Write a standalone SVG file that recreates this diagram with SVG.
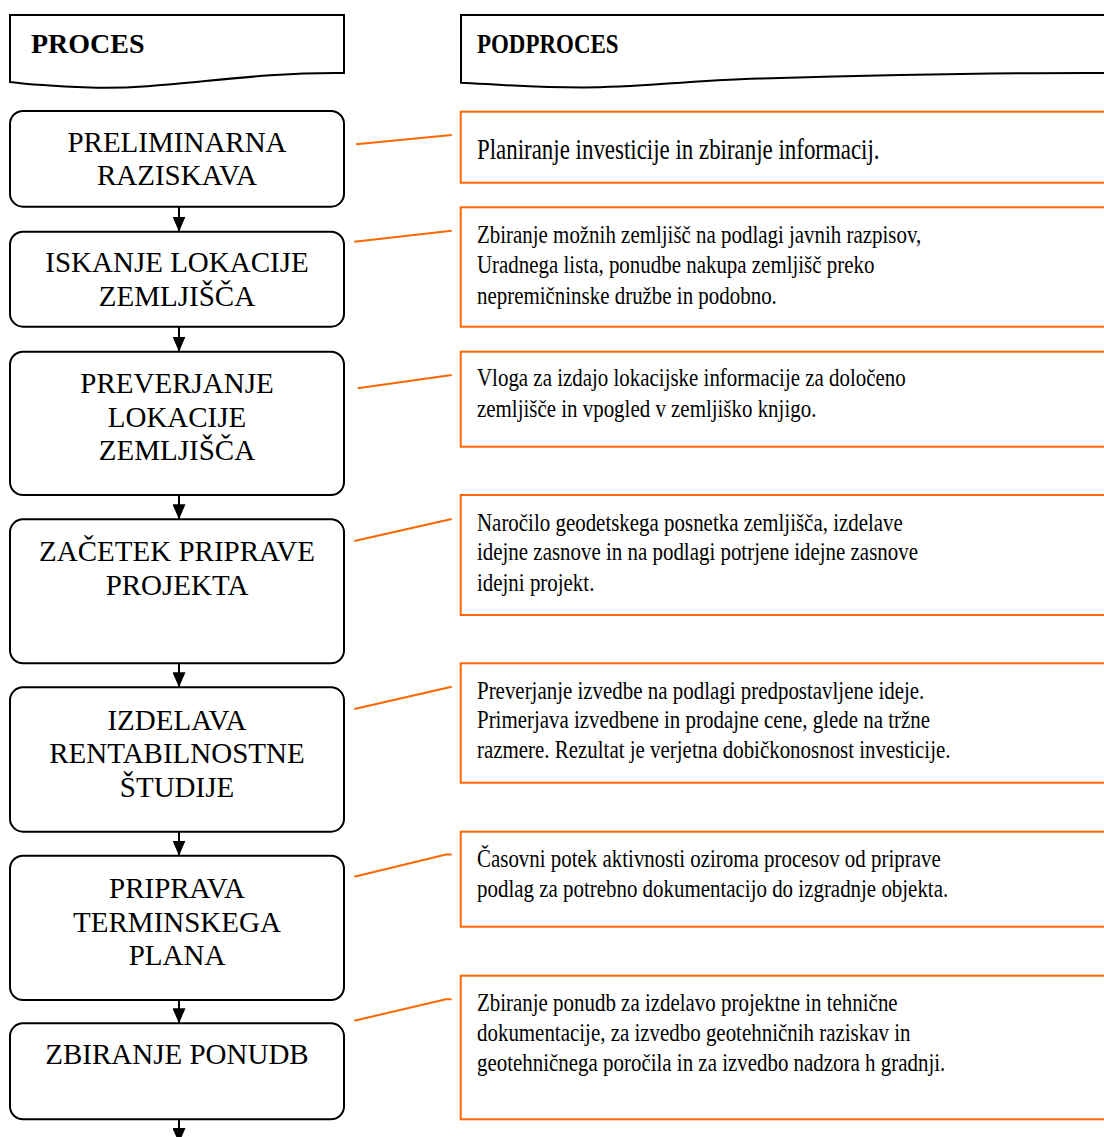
<svg xmlns="http://www.w3.org/2000/svg" width="1104" height="1137" viewBox="0 0 1104 1137">
<defs>
<style>
.doc{fill:#fff;stroke:#000;stroke-width:2}
.node{fill:#fff;stroke:#000;stroke-width:2}
.sub{fill:#fff;stroke:#ff6600;stroke-width:2}
.hd{font-family:"Liberation Serif","Times New Roman",serif;font-weight:bold;font-size:28px;fill:#000}
.nt{font-family:"Liberation Serif","Times New Roman",serif;font-size:29px;fill:#000;text-anchor:middle}
.st{font-family:"Liberation Serif","Times New Roman",serif;font-size:26px;fill:#000}
.st1{font-family:"Liberation Serif","Times New Roman",serif;font-size:29px;fill:#000}
.flow{stroke:#000;stroke-width:2;fill:none;marker-end:url(#ah)}
.link{stroke:#ff6600;stroke-width:2;fill:none}
</style>
<marker id="ah" viewBox="0 0 15 13" refX="15" refY="6.5" markerWidth="15" markerHeight="13" markerUnits="userSpaceOnUse" orient="auto">
<path d="M0,0 L15,6.5 L0,13 Z" fill="#000"/>
</marker>
</defs>
<rect width="1104" height="1137" fill="#fff"/>

<g id="header-proces">
<path class="doc" d="M10,15 H344 V73 C 240,72 170,90 90,87.5 C 50,86 25,84 10,82 Z"/>
<text class="hd" x="31" y="53">PROCES</text>
</g>
<g id="header-podproces">
<path class="doc" d="M461,15 H1112 V73 C 1000,72.5 850,76 760,78.5 C 680,81 640,87.5 583,87.5 C 530,87.5 490,84 461,82.7 Z"/>
<text class="hd" transform="translate(477,53) scale(0.82,1)" x="0" y="0">PODPROCES</text>
</g>

<g id="connectors">
<line class="flow" x1="179" y1="206.7" x2="179" y2="231.7"/>
<line class="flow" x1="179" y1="326.7" x2="179" y2="351.7"/>
<line class="flow" x1="179" y1="495" x2="179" y2="519.3"/>
<line class="flow" x1="179" y1="663.3" x2="179" y2="687.3"/>
<line class="flow" x1="179" y1="831.7" x2="179" y2="855.7"/>
<line class="flow" x1="179" y1="1000" x2="179" y2="1023.3"/>
<line class="flow" x1="179" y1="1119.3" x2="179" y2="1143"/>
<polyline class="link" points="356,144.3 451.7,135"/>
<polyline class="link" points="354.3,241.7 451.7,230.8"/>
<polyline class="link" points="357.7,388.3 451.7,375"/>
<polyline class="link" points="354.3,541 451.7,519"/>
<polyline class="link" points="354.3,709 451.7,686.7"/>
<polyline class="link" points="354.3,876.7 446,854.5 451.7,854.5"/>
<polyline class="link" points="354.3,1020.7 446,999.3 451.7,999.3"/>
</g>

<g id="n1">
<rect class="node" x="10" y="111" width="334" height="95.7" rx="13"/>
<text class="nt" x="177" y="152.3">PRELIMINARNA</text>
<text class="nt" x="177" y="185">RAZISKAVA</text>
</g>
<g id="n2">
<rect class="node" x="10" y="231.7" width="334" height="95" rx="13"/>
<text class="nt" x="177" y="272.3">ISKANJE LOKACIJE</text>
<text class="nt" x="177" y="305.7">ZEMLJIŠČA</text>
</g>
<g id="n3">
<rect class="node" x="10" y="351.7" width="334" height="143.3" rx="13"/>
<text class="nt" x="177" y="393.3">PREVERJANJE</text>
<text class="nt" x="177" y="426.7">LOKACIJE</text>
<text class="nt" x="177" y="460">ZEMLJIŠČA</text>
</g>
<g id="n4">
<rect class="node" x="10" y="519.3" width="334" height="144" rx="13"/>
<text class="nt" x="177" y="560.7">ZAČETEK PRIPRAVE</text>
<text class="nt" x="177" y="595">PROJEKTA</text>
</g>
<g id="n5">
<rect class="node" x="10" y="687.3" width="334" height="144.4" rx="13"/>
<text class="nt" x="177" y="730">IZDELAVA</text>
<text class="nt" x="177" y="763.3">RENTABILNOSTNE</text>
<text class="nt" x="177" y="796.7">ŠTUDIJE</text>
</g>
<g id="n6">
<rect class="node" x="10" y="855.7" width="334" height="144.3" rx="13"/>
<text class="nt" x="177" y="897.7">PRIPRAVA</text>
<text class="nt" x="177" y="931.7">TERMINSKEGA</text>
<text class="nt" x="177" y="965">PLANA</text>
</g>
<g id="n7">
<rect class="node" x="10" y="1023.3" width="334" height="96" rx="13"/>
<text class="nt" x="177" y="1064">ZBIRANJE PONUDB</text>
</g>

<g id="s1">
<rect class="sub" x="460.7" y="111.7" width="660" height="71"/>
<text class="st1" transform="translate(477,159.3) scale(0.79,1)">Planiranje investicije in zbiranje informacij.</text>
</g>
<g id="s2">
<rect class="sub" x="460.7" y="207.3" width="660" height="119.4"/>
<g transform="translate(477,0)">
<text class="st" transform="translate(0,243.3) scale(0.805,1)">Zbiranje možnih zemljišč na podlagi javnih razpisov,</text>
<text class="st" transform="translate(0,273.3) scale(0.805,1)">Uradnega lista, ponudbe nakupa zemljišč preko</text>
<text class="st" transform="translate(0,304) scale(0.805,1)">nepremičninske družbe in podobno.</text>
</g>
</g>
<g id="s3">
<rect class="sub" x="460.7" y="351.7" width="660" height="95"/>
<g transform="translate(477,0)">
<text class="st" transform="translate(0,385.7) scale(0.805,1)">Vloga za izdajo lokacijske informacije za določeno</text>
<text class="st" transform="translate(0,416.7) scale(0.805,1)">zemljišče in vpogled v zemljiško knjigo.</text>
</g>
</g>
<g id="s4">
<rect class="sub" x="460.7" y="495" width="660" height="120"/>
<g transform="translate(477,0)">
<text class="st" transform="translate(0,530.7) scale(0.805,1)">Naročilo geodetskega posnetka zemljišča, izdelave</text>
<text class="st" transform="translate(0,560) scale(0.805,1)">idejne zasnove in na podlagi potrjene idejne zasnove</text>
<text class="st" transform="translate(0,591) scale(0.805,1)">idejni projekt.</text>
</g>
</g>
<g id="s5">
<rect class="sub" x="460.7" y="663.3" width="660" height="119.4"/>
<g transform="translate(477,0)">
<text class="st" transform="translate(0,699.3) scale(0.805,1)">Preverjanje izvedbe na podlagi predpostavljene ideje.</text>
<text class="st" transform="translate(0,728.3) scale(0.805,1)">Primerjava izvedbene in prodajne cene, glede na tržne</text>
<text class="st" transform="translate(0,758.3) scale(0.805,1)">razmere. Rezultat je verjetna dobičkonosnost investicije.</text>
</g>
</g>
<g id="s6">
<rect class="sub" x="460.7" y="831.7" width="660" height="95"/>
<g transform="translate(477,0)">
<text class="st" transform="translate(0,866.7) scale(0.805,1)">Časovni potek aktivnosti oziroma procesov od priprave</text>
<text class="st" transform="translate(0,896.7) scale(0.805,1)">podlag za potrebno dokumentacijo do izgradnje objekta.</text>
</g>
</g>
<g id="s7">
<rect class="sub" x="460.7" y="975.7" width="660" height="143.6"/>
<g transform="translate(477,0)">
<text class="st" transform="translate(0,1010.7) scale(0.805,1)">Zbiranje ponudb za izdelavo projektne in tehnične</text>
<text class="st" transform="translate(0,1040.7) scale(0.805,1)">dokumentacije, za izvedbo geotehničnih raziskav in</text>
<text class="st" transform="translate(0,1070.7) scale(0.805,1)">geotehničnega poročila in za izvedbo nadzora h gradnji.</text>
</g>
</g>
</svg>
